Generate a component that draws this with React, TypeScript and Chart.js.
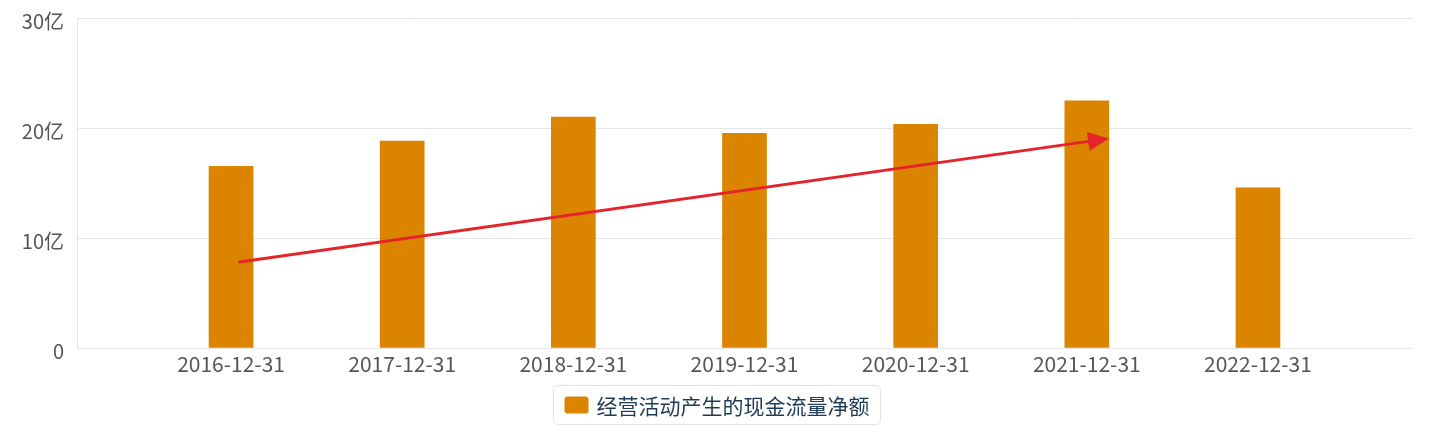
import React, { useEffect, useRef } from "react";
import { Chart, registerables } from "chart.js";

Chart.register(...registerables);

const categories: string[] = [
  "2016-12-31",
  "2017-12-31",
  "2018-12-31",
  "2019-12-31",
  "2020-12-31",
  "2021-12-31",
  "2022-12-31",
];

// 经营活动产生的现金流量净额, unit: 亿
const cashFlowValues: number[] = [16.52, 18.82, 21.0, 19.52, 20.33, 22.48, 14.57];

const seriesLabel = "经营活动产生的现金流量净额";

const yTicks: number[] = [0, 10, 20, 30];

// trend arrow, in data coordinates (category index, 亿)
const arrowFrom = { x: 0.05, y: 7.82 };
const arrowTo = { x: 5.13, y: 19.05 };

const FONT = "'Noto Sans CJK SC', 'Noto Sans', sans-serif";
const BAR_COLOR = "#db8400";
const GRID_COLOR = "#e6e6e6";
const TICK_COLOR = "#555555";
const LEGEND_TEXT = "#1f3a56";
const ARROW_COLOR = "#e4232b";

const arrowPlugin = {
  id: "trendArrow",
  afterDatasetsDraw(chart: any) {
    const { ctx, scales } = chart;
    const x1 = scales.x.getPixelForValue(arrowFrom.x);
    const y1 = scales.y.getPixelForValue(arrowFrom.y);
    const x2 = scales.x.getPixelForValue(arrowTo.x);
    const y2 = scales.y.getPixelForValue(arrowTo.y);
    const ang = Math.atan2(y2 - y1, x2 - x1);
    const headLen = 21;
    const headHalf = 9.5;
    const bx = x2 - headLen * Math.cos(ang);
    const by = y2 - headLen * Math.sin(ang);
    ctx.save();
    ctx.strokeStyle = ARROW_COLOR;
    ctx.fillStyle = ARROW_COLOR;
    ctx.lineWidth = 3;
    ctx.lineCap = "round";
    ctx.beginPath();
    ctx.moveTo(x1, y1);
    ctx.lineTo(bx + Math.cos(ang) * 2, by + Math.sin(ang) * 2);
    ctx.stroke();
    ctx.beginPath();
    ctx.moveTo(x2, y2);
    ctx.lineTo(bx + headHalf * Math.sin(ang), by - headHalf * Math.cos(ang));
    ctx.lineTo(bx - headHalf * Math.sin(ang), by + headHalf * Math.cos(ang));
    ctx.closePath();
    ctx.fill();
    ctx.restore();
  },
};

const legendPlugin = {
  id: "boxedLegend",
  afterDraw(chart: any) {
    const { ctx } = chart;
    const fontSize = 21;
    ctx.save();
    ctx.font = `${fontSize}px ${FONT}`;
    const textW = ctx.measureText(seriesLabel).width;
    const padL = 11;
    const padR = 11;
    const boxW = 24;
    const boxH = 17;
    const gap = 8;
    const totalW = padL + boxW + gap + textW + padR;
    const h = 39;
    const left = Math.round(chart.width / 2 - totalW / 2) - 3 + 0.5;
    const top = chart.height - 47 + 0.5;
    // frame
    ctx.shadowColor = "rgba(0,0,0,0.06)";
    ctx.shadowBlur = 3;
    ctx.fillStyle = "#ffffff";
    ctx.beginPath();
    ctx.roundRect(left, top, totalW, h, 5);
    ctx.fill();
    ctx.shadowColor = "transparent";
    ctx.strokeStyle = "#e3e3e3";
    ctx.lineWidth = 1;
    ctx.stroke();
    // swatch
    const cy = top + h / 2;
    ctx.fillStyle = BAR_COLOR;
    ctx.beginPath();
    ctx.roundRect(left + padL, cy - boxH / 2, boxW, boxH, 3);
    ctx.fill();
    // label
    ctx.fillStyle = LEGEND_TEXT;
    ctx.textBaseline = "middle";
    ctx.textAlign = "left";
    ctx.fillText(seriesLabel, left + padL + boxW + gap, cy + 1);
    ctx.restore();
  },
};

export default function App() {
  const canvasRef = useRef<HTMLCanvasElement | null>(null);

  useEffect(() => {
    document.body.style.margin = "0";
    const canvas = canvasRef.current;
    if (!canvas) return;
    const chart = new Chart(canvas, {
      type: "bar",
      data: {
        datasets: [
          {
            label: seriesLabel,
            data: categories.map((_, i) => ({ x: i, y: cashFlowValues[i] })),
            backgroundColor: BAR_COLOR,
            borderWidth: 0,
            barThickness: 44,
          },
        ],
      },
      options: {
        animation: false,
        responsive: true,
        maintainAspectRatio: false,
        layout: { padding: { left: 0, right: 27, top: 18, bottom: 0 } },
        plugins: {
          legend: { display: false },
          tooltip: { enabled: false },
        },
        scales: {
          x: {
            type: "linear",
            offset: false,
            min: -0.9,
            max: 6.9,
            afterBuildTicks: (axis: any) => {
              axis.ticks = categories.map((_, i) => ({ value: i }));
            },
            afterFit: (s: any) => {
              s.height = 84;
              s.paddingLeft = 0;
              s.paddingRight = 0;
            },
            grid: { display: false, drawTicks: false },
            border: { display: false },
            ticks: {
              autoSkip: false,
              maxRotation: 0,
              padding: 3,
              color: TICK_COLOR,
              font: { size: 21, family: FONT },
              callback: (v: any) => categories[v as number] ?? "",
            },
          },
          y: {
            min: 0,
            max: 30,
            afterBuildTicks: (axis: any) => {
              axis.ticks = yTicks.map((v) => ({ value: v }));
            },
            afterFit: (s: any) => {
              s.width = 77;
              s.paddingTop = 0;
              s.paddingBottom = 0;
            },
            grid: { color: GRID_COLOR, drawTicks: false, lineWidth: 1 },
            border: { display: true, color: GRID_COLOR },
            ticks: {
              padding: 13,
              labelOffset: 3,
              color: TICK_COLOR,
              font: { size: 20, family: FONT },
              callback: (v: any) => (v === 0 ? "0" : `${v}亿`),
            },
          },
        },
      },
      plugins: [arrowPlugin, legendPlugin],
    });
    return () => chart.destroy();
  }, []);

  return (
    <div style={{ position: "absolute", left: 0, top: 0, width: 1439, height: 432 }}>
      <canvas ref={canvasRef} />
    </div>
  );
}
